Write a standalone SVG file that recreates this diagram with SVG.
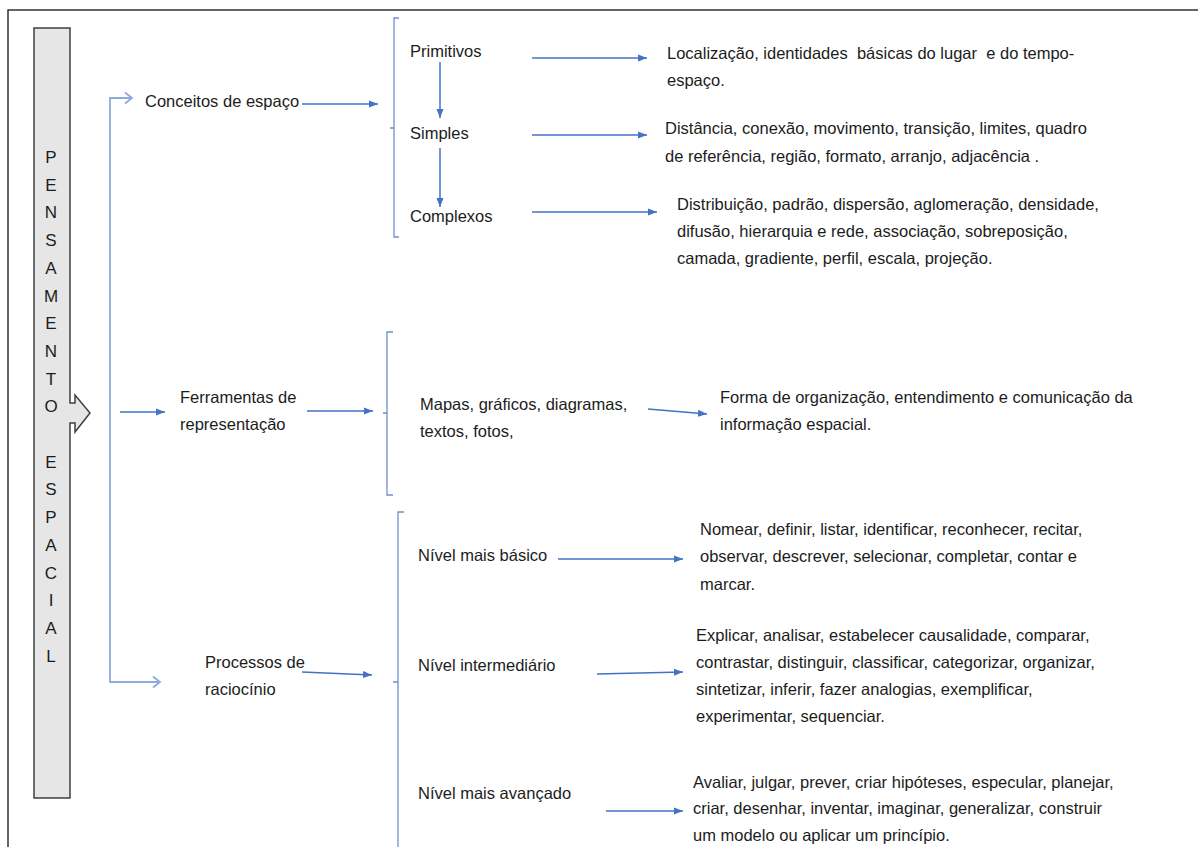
<svg xmlns="http://www.w3.org/2000/svg" width="1198" height="847" viewBox="0 0 1198 847">
<style>
text{font-family:"Liberation Sans",Arial,sans-serif;font-size:16.5px;fill:#1c1c1c}
.vl{text-anchor:middle;font-size:17px}
.pre{white-space:pre}
.c{stroke:#4472C4;stroke-width:1.5;fill:none}
.lc{stroke:#8FAADC;stroke-width:1.8;fill:none}
.br{stroke:#6F8FD0;stroke-width:1.3;fill:none}
</style>
<defs>
<marker id="ah" markerUnits="userSpaceOnUse" markerWidth="10" markerHeight="10" viewBox="0 0 10 10" refX="9" refY="5" orient="auto">
<path d="M0,1.5 L9,5 L0,8.5 Z" fill="#4472C4"/>
</marker>
<marker id="oh" markerUnits="userSpaceOnUse" markerWidth="12" markerHeight="14" viewBox="0 0 12 14" refX="10" refY="7" orient="auto">
<path d="M3,1.5 L10,7 L3,12.5" fill="none" stroke="#8FAADC" stroke-width="1.8"/>
</marker>
</defs>
<rect width="1198" height="847" fill="#fff"/>
<path d="M8,847 V10 H1198" fill="none" stroke="#333" stroke-width="1.5"/>

<g id="pensamento">
<path d="M34,28 H70 V403 H75 V395 L90,413 L75,432 V423 H70 V798 H34 Z" fill="#E6E6E6" stroke="#404040" stroke-width="1.5"/>
<text class="vl" x="51" y="163">P</text>
<text class="vl" x="51" y="190.7">E</text>
<text class="vl" x="51" y="218.4">N</text>
<text class="vl" x="51" y="246.1">S</text>
<text class="vl" x="51" y="273.8">A</text>
<text class="vl" x="51" y="301.5">M</text>
<text class="vl" x="51" y="329.2">E</text>
<text class="vl" x="51" y="356.9">N</text>
<text class="vl" x="51" y="384.6">T</text>
<text class="vl" x="51" y="412.3">O</text>
<text class="vl" x="51" y="467.7">E</text>
<text class="vl" x="51" y="495.4">S</text>
<text class="vl" x="51" y="523.1">P</text>
<text class="vl" x="51" y="550.8">A</text>
<text class="vl" x="51" y="578.5">C</text>
<text class="vl" x="51" y="606.2">I</text>
<text class="vl" x="51" y="633.9">A</text>
<text class="vl" x="51" y="661.6">L</text>
</g>

<g id="conceitos"><text x="145" y="107">Conceitos de espaço</text></g>
<g id="primitivos"><text x="410" y="57">Primitivos</text></g>
<g id="simples"><text x="410" y="139">Simples</text></g>
<g id="complexos"><text x="410" y="222">Complexos</text></g>
<g id="primitivos-desc"><text class="pre" x="667" y="59" xml:space="preserve">Localização, identidades  básicas do lugar  e do tempo-</text><text x="667" y="86">espaço.</text></g>
<g id="simples-desc"><text x="665" y="134">Distância, conexão, movimento, transição, limites, quadro</text><text x="665" y="162">de referência, região, formato, arranjo, adjacência .</text></g>
<g id="complexos-desc"><text x="677" y="210">Distribuição, padrão, dispersão, aglomeração, densidade,</text><text x="677" y="237">difusão, hierarquia e rede, associação, sobreposição,</text><text x="677" y="264">camada, gradiente, perfil, escala, projeção.</text></g>

<g id="ferramentas"><text x="180" y="403">Ferramentas de</text><text x="180" y="430">representação</text></g>
<g id="mapas"><text x="420" y="410">Mapas, gráficos, diagramas,</text><text x="420" y="437">textos, fotos,</text></g>
<g id="forma"><text x="720" y="403">Forma de organização, entendimento e comunicação da</text><text x="720" y="430">informação espacial.</text></g>

<g id="processos"><text x="205" y="668">Processos de</text><text x="205" y="695">raciocínio</text></g>
<g id="basico"><text x="418" y="561">Nível mais básico</text></g>
<g id="intermediario"><text x="418" y="671">Nível intermediário</text></g>
<g id="avancado"><text x="418" y="799">Nível mais avançado</text></g>
<g id="basico-desc"><text x="700" y="535">Nomear, definir, listar, identificar, reconhecer, recitar,</text><text x="700" y="562">observar, descrever, selecionar, completar, contar e</text><text x="700" y="590">marcar.</text></g>
<g id="intermediario-desc"><text x="696" y="641">Explicar, analisar, estabelecer causalidade, comparar,</text><text x="696" y="668">contrastar, distinguir, classificar, categorizar, organizar,</text><text x="696" y="695">sintetizar, inferir, fazer analogias, exemplificar,</text><text x="696" y="722">experimentar, sequenciar.</text></g>
<g id="avancado-desc"><text x="693" y="788">Avaliar, julgar, prever, criar hipóteses, especular, planejar,</text><text x="693" y="814">criar, desenhar, inventar, imaginar, generalizar, construir</text><text x="693" y="841">um modelo ou aplicar um princípio.</text></g>

<g id="connectors">
<path class="lc" d="M132,98 H110 V682 H160" marker-end="url(#oh)"/>
<path class="lc" d="M110,98 H132" marker-end="url(#oh)"/>
<line class="c" x1="120" y1="412" x2="165" y2="412" marker-end="url(#ah)"/>
<path class="br" d="M399,18 H394 V237 H399 M394,128 H390"/>
<path class="br" d="M393,332 H387 V495 H393 M387,413 H383"/>
<path class="br" d="M404,512 H398 V847 M398,682 H393"/>
<line class="c" x1="302" y1="104" x2="378" y2="104" marker-end="url(#ah)"/>
<line class="c" x1="440" y1="62" x2="440" y2="118" marker-end="url(#ah)"/>
<line class="c" x1="440" y1="148" x2="440" y2="207" marker-end="url(#ah)"/>
<line class="c" x1="532" y1="58" x2="647" y2="58" marker-end="url(#ah)"/>
<line class="c" x1="532" y1="135" x2="647" y2="135" marker-end="url(#ah)"/>
<line class="c" x1="532" y1="212" x2="657" y2="212" marker-end="url(#ah)"/>
<line class="c" x1="307" y1="411" x2="373" y2="411" marker-end="url(#ah)"/>
<line class="c" x1="648" y1="409" x2="707" y2="414" marker-end="url(#ah)"/>
<line class="c" x1="302" y1="672" x2="372" y2="675" marker-end="url(#ah)"/>
<line class="c" x1="558" y1="559" x2="683" y2="559" marker-end="url(#ah)"/>
<line class="c" x1="597" y1="674" x2="683" y2="672" marker-end="url(#ah)"/>
<line class="c" x1="606" y1="811" x2="683" y2="811" marker-end="url(#ah)"/>
</g>
</svg>
